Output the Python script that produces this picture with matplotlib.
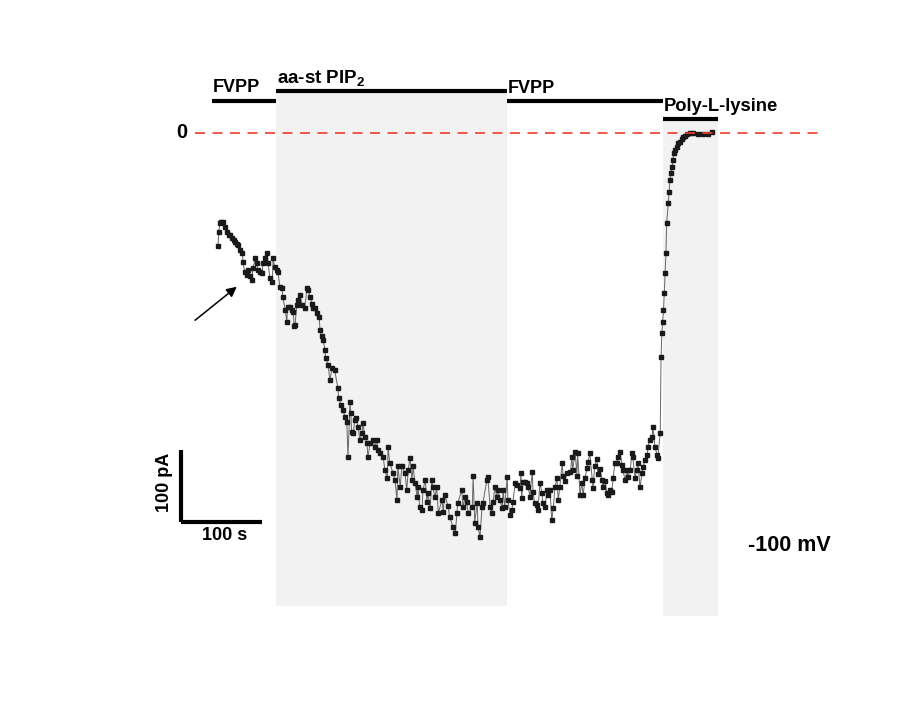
import matplotlib
matplotlib.use("Agg")
from matplotlib import pyplot as plt

plt.rcParams['font.family'] = ['Liberation Sans', 'DejaVu Sans']
plt.rcParams['mathtext.fontset'] = 'custom'
plt.rcParams['mathtext.bf'] = 'Liberation Sans:bold'
plt.rcParams['mathtext.rm'] = 'Liberation Sans:bold'

# time (s) and current (pA)
time_s = [0, 1, 2.5, 4, 6, 9, 11, 14, 15, 17, 20, 21, 23.5, 25, 27, 30, 31, 33, 36, 37,
          39.5, 42, 43, 46, 48, 49, 52, 54, 56, 58, 60.5, 62, 64, 67, 68, 70, 73, 74, 76.5, 79,
          80, 83, 85, 86, 89, 91, 93, 94, 95, 97.5, 99, 101, 104, 107, 110, 111, 114, 116, 117, 120,
          122, 125, 126, 128, 130, 132, 133, 136, 138, 141, 144, 148, 149, 152, 154, 157, 159, 160.5, 163, 164,
          165, 167, 169, 170, 173, 175, 178, 179, 181.5, 184, 185, 188, 191, 194, 196, 197.5, 200, 204, 206, 209,
          210, 212, 216, 218.5, 221, 222, 225, 227, 231, 233, 235, 237, 239.5, 241, 243, 246, 247, 249, 252, 253,
          256, 258, 259, 262, 264, 265, 268, 270, 272, 276.5, 278, 280, 284, 286, 290, 293, 295, 296, 301, 302.5,
          305, 307, 309, 314, 315, 317, 320, 321, 323.5, 326, 327, 332, 333, 336, 338, 339.5, 342, 344, 346, 348,
          351, 352, 354, 357, 358, 360.5, 363, 364, 367, 369, 373, 374, 375, 376.5, 379, 381.5, 383, 385, 388, 389,
          391, 394, 395, 397.5, 400, 401, 404, 406, 407, 410, 412, 414, 416, 418.5, 420, 422, 425, 426, 428, 431,
          435, 437, 438, 441, 443, 444, 447, 449, 451, 453, 456, 457, 459, 462, 463, 465, 468, 469, 472, 474,
          475, 478, 480, 481.5, 484, 486, 488, 490, 493, 494, 496, 499, 500, 502.5, 505, 506, 509, 511, 512, 515,
          517, 518.5, 521, 523.5, 525, 527, 530, 531, 533, 536, 537, 539.5, 542, 543, 546, 547, 548, 549, 550, 551,
          552, 553, 554, 556, 557, 558, 559, 560.5, 562, 562.5, 564, 567, 568, 570, 573, 574, 576.5, 579, 583, 586,
          593, 599, 605, 610]
current_pA = [-157, -138, -125, -124, -124, -131, -138, -142, -142, -146, -149, -151, -154, -156, -163, -167, -179, -193, -197, -190,
              -199, -204, -188, -174, -180, -190, -193, -194, -181, -174, -167, -181, -201, -207, -174, -186, -190, -193, -214, -215,
              -228, -246, -262, -242, -242, -246, -249, -268, -267, -239, -232, -225, -239, -243, -215, -218, -228, -238, -243, -243,
              -250, -256, -274, -282, -288, -301, -313, -322, -343, -326, -329, -354, -368, -378, -385, -394, -401, -450, -374, -389,
              -415, -417, -398, -396, -408, -426, -417, -403, -422, -431, -450, -431, -426, -436, -426, -440, -444, -450, -468, -479,
              -436, -458, -472, -482, -510, -463, -491, -463, -472, -496, -468, -451, -482, -463, -486, -505, -491, -519, -524, -496,
              -482, -513, -500, -521, -482, -491, -506, -491, -528, -510, -526, -503, -518, -533, -547, -556, -528, -514, -496, -519,
              -506, -513, -528, -519, -477, -541, -514, -547, -561, -519, -514, -482, -478, -519, -528, -513, -491, -506, -496, -510,
              -521, -496, -519, -478, -510, -530, -523, -513, -486, -489, -493, -472, -507, -485, -485, -486, -491, -505, -471, -499,
              -514, -516, -523, -486, -500, -514, -519, -496, -503, -496, -538, -521, -492, -479, -510, -492, -458, -476, -483, -472,
              -471, -450, -468, -443, -476, -445, -503, -486, -503, -479, -465, -457, -444, -482, -493, -463, -453, -474, -467, -482,
              -491, -484, -500, -503, -496, -499, -479, -458, -458, -450, -443, -461, -468, -482, -468, -478, -468, -444, -450, -479,
              -468, -458, -492, -472, -464, -454, -447, -436, -426, -422, -408, -436, -447, -451, -416, -311, -278, -262, -246, -222,
              -194, -167, -125, -97, -82, -65, -56, -47, -38, -28, -24, -19, -14, -12, -8, -6, -4, -1, 0, 0,
              -1, -1, -1, 1]

# solution periods (s)
period_labels = ['FVPP', 'aa-st PIP$_\\mathbf{2}$', 'FVPP', 'Poly-L-lysine']
period_start = [-7.4, 71.6, 356.8, 549.4]
period_end = [71.6, 356.8, 549.4, 617.3]

fig = plt.figure(figsize=(9.06, 7.09), dpi=100)
ax = fig.add_axes([0, 0, 1, 1])
ax.set_xlim(-269.1, 849.4)
ax.set_ylim(-800, 184.7)
ax.axis('off')

# shaded applications
ax.fill_between([period_start[1], period_end[1]], -657, 58, color='#f2f2f2', lw=0, zorder=0)
ax.fill_between([period_start[3], period_end[3]], -671, 20.8, color='#f2f2f2', lw=0, zorder=0)

# bars on top + labels
bar_y = [44.4, 58.3, 44.9, 20.1]
text_y = [56.9, 68.0, 55.6, 30.6]
label_size = [13, 13.5, 13, 13.2]
for i in range(4):
    ax.plot([period_start[i], period_end[i]], [bar_y[i], bar_y[i]], color='black', lw=3,
            solid_capstyle='butt')
    ax.text(period_start[i] + 1.5, text_y[i], period_labels[i], fontsize=label_size[i],
            fontweight='bold', ha='left', va='baseline')

# zero line
ax.plot([-28.4, 743], [0, 0], color='#ee3b30', lw=1.2, dashes=(6, 4.5), zorder=4)
ax.text(-44.4, 0, '0', fontsize=14.5, fontweight='bold', ha='center', va='center')

# the trace
ax.plot(time_s, current_pA, color='#666666', lw=0.7, marker='s', markersize=2.5,
        markerfacecolor='#1a1a1a', markeredgecolor='#1a1a1a', zorder=3)

# arrow
ax.annotate('', xy=(25.9, -211.1), xytext=(-30.9, -262.5),
            arrowprops=dict(arrowstyle='-|>', color='black', lw=1.1, mutation_scale=15))

# scale bars
ax.plot([-45.1, 54.9], [-540.3, -540.3], color='black', lw=3, solid_capstyle='butt')
ax.plot([-45.1, -45.1], [-540.3, -440.3], color='black', lw=3, solid_capstyle='butt')
ax.text(8.0, -559.7, '100 s', fontsize=13, fontweight='bold', ha='center', va='center')
ax.text(-65.4, -484.7, '100 pA', fontsize=13, fontweight='bold', ha='center', va='center',
        rotation=90)

ax.text(654.3, -573.6, '-100 mV', fontsize=15.5, fontweight='bold', ha='left', va='center')

fig.savefig('out.png', dpi=100)
